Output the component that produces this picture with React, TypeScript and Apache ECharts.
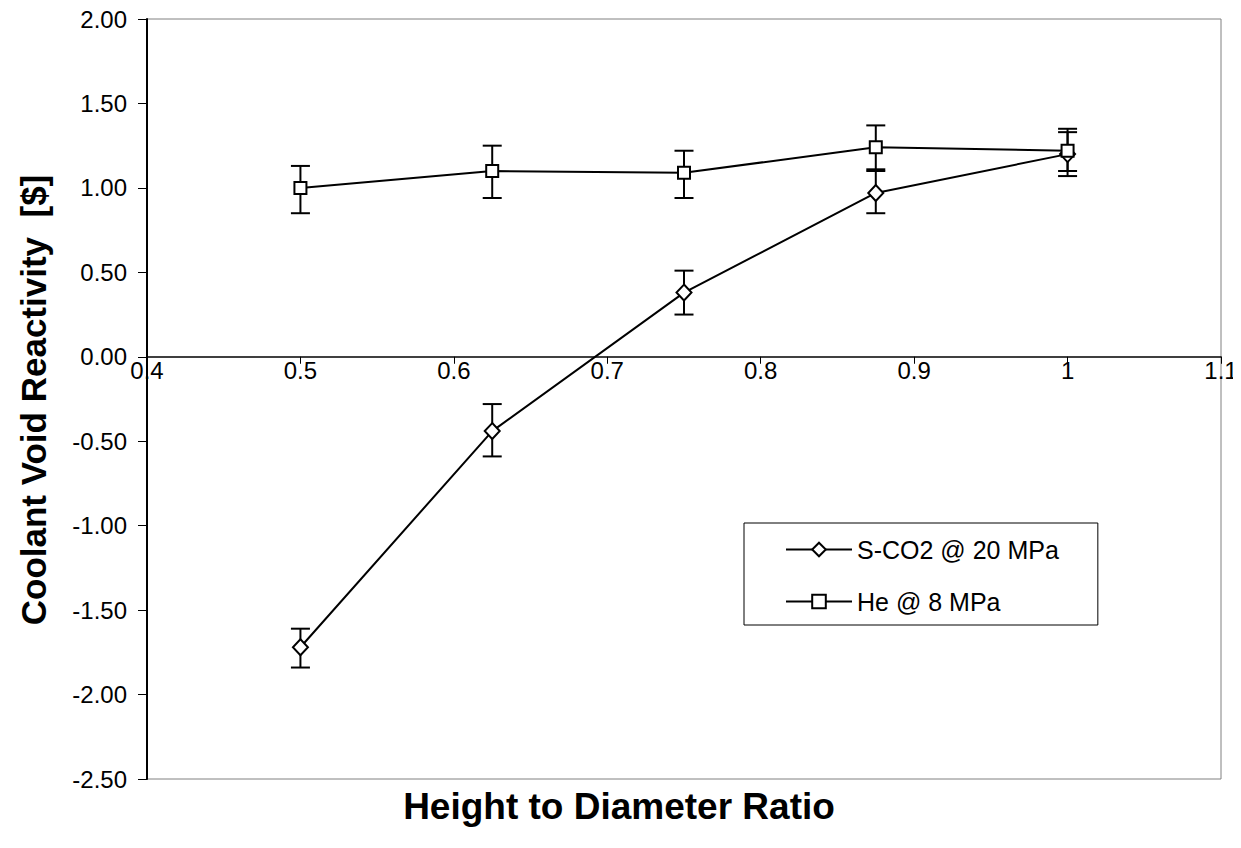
import React, { useEffect, useRef } from "react";
import * as echarts from "echarts";

const xValues = [0.5, 0.625, 0.75, 0.875, 1.0];
const sco2Values = [-1.72, -0.44, 0.38, 0.97, 1.2];
const sco2Low = [-1.84, -0.59, 0.25, 0.85, 1.07];
const sco2High = [-1.61, -0.28, 0.51, 1.1, 1.33];
const heValues = [1.0, 1.1, 1.09, 1.24, 1.22];
const heLow = [0.85, 0.94, 0.94, 1.11, 1.1];
const heHigh = [1.13, 1.25, 1.22, 1.37, 1.35];
const seriesNames = ["S-CO2 @ 20 MPa", "He @ 8 MPa"];
const xTitle = "Height to Diameter Ratio";
const yTitle = "Coolant Void Reactivity  [$]";

const FONT = "Liberation Sans, Arial, sans-serif";

const GRID_TOP = 19;
const GRID_BOTTOM = 69;
const CHART_H = 848;
const Y_MIN = -2.5;
const Y_MAX = 2;

function errorSeries(name: string, low: number[], high: number[]) {
  return {
    type: "custom",
    name: name + " err",
    z: 1,
    silent: true,
    data: xValues.map((x, i) => [x, low[i], high[i]]),
    renderItem: (params: any, api: any) => {
      const x = api.value(0);
      const lo = api.coord([x, api.value(1)]);
      const hi = api.coord([x, api.value(2)]);
      const half = 9.5;
      const style = { stroke: "#000", lineWidth: 2 };
      return {
        type: "group",
        children: [
          { type: "line", shape: { x1: lo[0], y1: lo[1], x2: hi[0], y2: hi[1] }, style },
          { type: "line", shape: { x1: lo[0] - half, y1: lo[1], x2: lo[0] + half, y2: lo[1] }, style },
          { type: "line", shape: { x1: hi[0] - half, y1: hi[1], x2: hi[0] + half, y2: hi[1] }, style },
        ],
      };
    },
  };
}

export default function App() {
  const ref = useRef<HTMLDivElement>(null);
  useEffect(() => {
    if (!ref.current) return;
    const chart = echarts.init(ref.current, undefined, { renderer: "svg" });
    const gridH = CHART_H - GRID_TOP - GRID_BOTTOM;
    const zeroOffset = (gridH * (0 - Y_MIN)) / (Y_MAX - Y_MIN);
    chart.setOption({
      animation: false,
      backgroundColor: "#fff",
      grid: {
        left: 147,
        right: 20,
        top: GRID_TOP,
        bottom: GRID_BOTTOM,
        show: true,
        borderColor: "#808080",
        borderWidth: 1,
      },
      xAxis: {
        type: "value",
        min: 0.4,
        max: 1.1,
        interval: 0.1,
        position: "bottom",
        offset: -zeroOffset,
        axisLine: { onZero: false, lineStyle: { color: "#000", width: 1.5 } },
        axisTick: { show: true, length: 7, inside: false, lineStyle: { color: "#000", width: 1 } },
        axisLabel: {
          color: "#000",
          fontSize: 24,
          fontFamily: FONT,
          margin: 2,
          showMinLabel: true,
          showMaxLabel: true,
          formatter: (v: number) => String(Math.round(v * 10) / 10),
        },
        splitLine: { show: false },
      },
      yAxis: {
        type: "value",
        min: Y_MIN,
        max: Y_MAX,
        interval: 0.5,
        axisLine: { show: true, onZero: false, lineStyle: { color: "#000", width: 2 } },
        axisTick: { show: true, length: 9, lineStyle: { color: "#000", width: 1 } },
        axisLabel: {
          color: "#000",
          fontSize: 24,
          fontFamily: FONT,
          margin: 20,
          formatter: (v: number) => v.toFixed(2),
        },
        splitLine: { show: false },
      },
      legend: {
        orient: "vertical",
        left: 744,
        top: 523,
        data: seriesNames,
        itemWidth: 66,
        itemHeight: 17,
        itemGap: 27,
        padding: [14, 39, 11, 41],
        borderColor: "#000",
        borderWidth: 1,
        backgroundColor: "#fff",
        textStyle: { color: "#000", fontSize: 25, fontFamily: FONT },
      },
      graphic: [
        {
          type: "text",
          x: 33,
          y: 400,
          rotation: Math.PI / 2,
          style: {
            text: yTitle,
            fill: "#000",
            font: `bold 35px ${FONT}`,
            textAlign: "center",
            textVerticalAlign: "middle",
          },
        },
        {
          type: "text",
          x: 619,
          y: 806,
          style: {
            text: xTitle,
            fill: "#000",
            font: `bold 37px ${FONT}`,
            textAlign: "center",
            textVerticalAlign: "middle",
          },
        },
      ],
      series: [
        errorSeries(seriesNames[0], sco2Low, sco2High),
        errorSeries(seriesNames[1], heLow, heHigh),
        {
          name: seriesNames[0],
          type: "line",
          z: 3,
          data: xValues.map((x, i) => [x, sco2Values[i]]),
          symbol: "diamond",
          symbolSize: [15, 16],
          showAllSymbol: true,
          lineStyle: { color: "#000", width: 2 },
          itemStyle: { color: "#fff", borderColor: "#000", borderWidth: 2 },
        },
        {
          name: seriesNames[1],
          type: "line",
          z: 3,
          data: xValues.map((x, i) => [x, heValues[i]]),
          symbol: "rect",
          symbolSize: 12,
          showAllSymbol: true,
          lineStyle: { color: "#000", width: 2 },
          itemStyle: { color: "#fff", borderColor: "#000", borderWidth: 2 },
        },
      ],
    });
    return () => chart.dispose();
  }, []);
  return <div ref={ref} style={{ width: 1241, height: 848, margin: -8 }} />;
}
